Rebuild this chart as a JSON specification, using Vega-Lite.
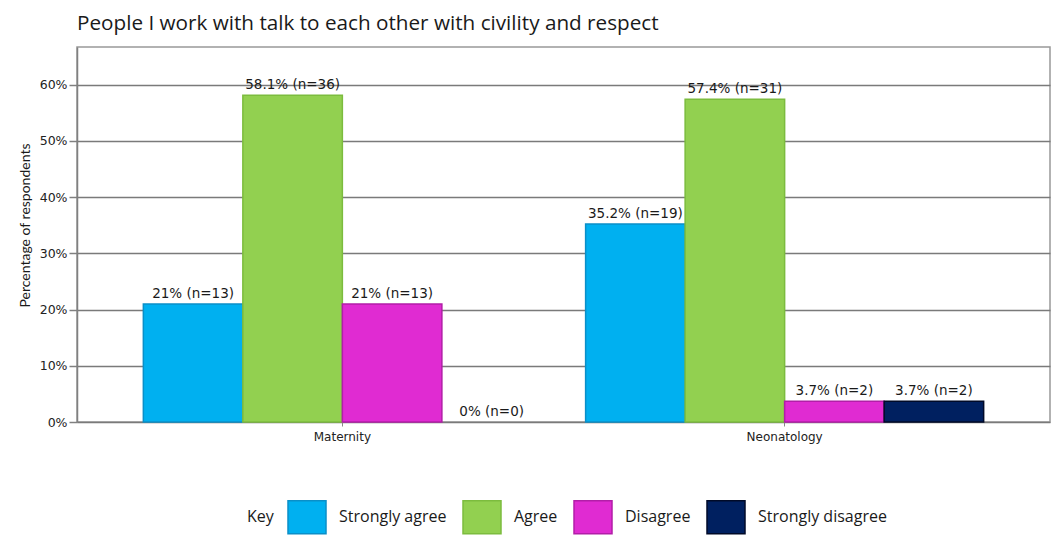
{
  "$schema": "https://vega.github.io/schema/vega-lite/v6.json",
  "width": 973,
  "height": 375,
  "autosize": {"type": "none"},
  "padding": {"left": 77, "top": 47, "right": 1, "bottom": 125},
  "background": "white",
  "title": {
    "text": "People I work with talk to each other with civility and respect",
    "anchor": "start",
    "frame": "group",
    "font": "Open Sans",
    "fontSize": 20.7,
    "fontWeight": "normal",
    "color": "#1a1a1a",
    "offset": 12
  },
  "data": {
    "values": [
      {"group": "Maternity", "response": "Strongly agree", "value": 0.21, "label": "21% (n=13)"},
      {"group": "Maternity", "response": "Agree", "value": 0.581, "label": "58.1% (n=36)"},
      {"group": "Maternity", "response": "Disagree", "value": 0.21, "label": "21% (n=13)"},
      {"group": "Maternity", "response": "Strongly disagree", "value": 0, "label": "0% (n=0)"},
      {"group": "Neonatology", "response": "Strongly agree", "value": 0.352, "label": "35.2% (n=19)"},
      {"group": "Neonatology", "response": "Agree", "value": 0.574, "label": "57.4% (n=31)"},
      {"group": "Neonatology", "response": "Disagree", "value": 0.037, "label": "3.7% (n=2)"},
      {"group": "Neonatology", "response": "Strongly disagree", "value": 0.037, "label": "3.7% (n=2)"}
    ]
  },
  "encoding": {
    "x": {
      "field": "group",
      "type": "nominal",
      "scale": {"paddingInner": 0.1, "paddingOuter": 0.15},
      "axis": {
        "title": null,
        "labelAngle": 0,
        "domain": false,
        "ticks": true,
        "tickSize": 4,
        "tickColor": "#888888",
        "labelFont": "DejaVu Sans",
        "labelFontSize": 12,
        "labelColor": "#222222",
        "labelPadding": 5,
        "grid": false
      }
    },
    "xOffset": {
      "field": "response",
      "type": "nominal",
      "sort": ["Strongly agree", "Agree", "Disagree", "Strongly disagree"],
      "scale": {"paddingInner": 0, "paddingOuter": 0}
    },
    "y": {
      "field": "value",
      "type": "quantitative",
      "scale": {"domain": [0, 0.667], "nice": false},
      "axis": {
        "title": "Percentage of respondents",
        "titleFont": "Lato",
        "titleFontSize": 14,
        "titleFontWeight": "normal",
        "titleColor": "#1a1a1a",
        "titlePadding": 7,
        "titleY": 178,
        "values": [0, 0.1, 0.2, 0.3, 0.4, 0.5, 0.6],
        "format": ".0%",
        "labelFont": "DejaVu Sans",
        "labelFontSize": 12.5,
        "labelColor": "#222222",
        "labelPadding": 2,
        "tickSize": 8,
        "tickColor": "#808080",
        "tickWidth": 1.5,
        "domainColor": "#808080",
        "domainWidth": 1.5,
        "gridColor": "#7a7a7a",
        "gridWidth": 1.6
      }
    }
  },
  "layer": [
    {
      "mark": {"type": "bar", "strokeWidth": 1.5},
      "encoding": {
        "strokeOpacity": {
          "condition": {"test": "datum.value == 0", "value": 0},
          "value": 1
        },
        "color": {
          "field": "response",
          "type": "nominal",
          "sort": ["Strongly agree", "Agree", "Disagree", "Strongly disagree"],
          "scale": {
            "domain": ["Strongly agree", "Agree", "Disagree", "Strongly disagree"],
            "range": ["#00b0f0", "#92d050", "#e02bd2", "#002060"]
          },
          "legend": {
            "orient": "none",
            "legendX": 170,
            "legendY": 450,
            "direction": "horizontal",
            "title": "Key",
            "titleOrient": "left",
            "titleFont": "Open Sans",
            "titleFontSize": 16,
            "titleFontWeight": "normal",
            "titleColor": "#1a1a1a",
            "titlePadding": 13,
            "labelFont": "Open Sans",
            "labelFontSize": 16,
            "labelColor": "#1a1a1a",
            "labelOffset": 12,
            "columnPadding": 13,
            "symbolType": "M-1,-0.868L1,-0.868L1,0.868L-1,0.868Z",
            "symbolSize": 1444,
            "symbolStrokeWidth": 1.5,
            "symbolOpacity": 1,
            "encode": {
              "symbols": {"update": {"stroke": {"scale": "stroke", "field": "value"}}}
            }
          }
        },
        "stroke": {
          "field": "response",
          "type": "nominal",
          "scale": {
            "domain": ["Strongly agree", "Agree", "Disagree", "Strongly disagree"],
            "range": ["#0a8fc8", "#7cbc3e", "#b21ea8", "#000a28"]
          },
          "legend": null
        }
      }
    },
    {
      "mark": {
        "type": "text",
        "align": "center",
        "baseline": "bottom",
        "dy": -3,
        "font": "DejaVu Sans",
        "fontSize": 13.5,
        "color": "#1a1a1a"
      },
      "encoding": {
        "text": {"field": "label", "type": "nominal"}
      }
    }
  ],
  "config": {
    "view": {"stroke": "#999999", "strokeWidth": 1.5}
  }
}
